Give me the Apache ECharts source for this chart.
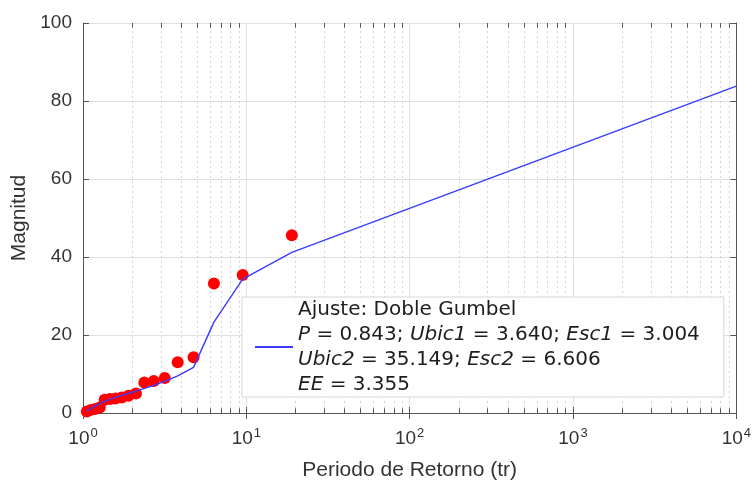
<!DOCTYPE html>
<html>
<head>
<meta charset="utf-8">
<script src="https://cdn.jsdelivr.net/npm/echarts@6/dist/echarts.min.js"></script>
<style>
  html, body { margin: 0; padding: 0; background: #ffffff; }
  #chart { width: 754px; height: 487px; }
</style>
</head>
<body>
<div id="chart"></div>
<script>
// Observed return periods (years) and magnitudes
const periods = [1.056, 1.118, 1.188, 1.267, 1.357, 1.462, 1.583, 1.727, 1.9, 2.111, 2.375, 2.714, 3.167, 3.8, 4.75, 6.333, 9.5, 19];
const magnitudes = [0.4, 0.8, 1.0, 1.4, 3.4, 3.6, 3.7, 4.0, 4.4, 5.0, 7.8, 8.2, 9.0, 13.0, 14.3, 33.2, 35.4, 45.6];

// Fitted double Gumbel curve
const fitPeriods = [1.056, 1.118, 1.188, 1.267, 1.357, 1.462, 1.583, 1.727, 1.9, 2.111, 2.375, 2.714, 3.167, 3.8, 4.75, 6.333, 9.5, 19, 10000];
const fitMagnitudes = [0.5, 1.2, 1.8, 2.4, 3.0, 3.5, 4.0, 4.5, 5.0, 5.6, 6.3, 7.1, 8.1, 9.5, 11.7, 23.3, 34.3, 41.2, 83.8];

// Axis ranges
const decades = [1, 10, 100, 1000];
const xMin = 1, xMax = 10000;
const yMin = 0, yMax = 100, yStep = 20;

// Legend text lines
const legendLines = [
  '{n|Ajuste: Doble Gumbel}',
  '{i|P}{n| = 0.843; }{i|Ubic1}{n| = 3.640; }{i|Esc1}{n| = 3.004}',
  '{i|Ubic2}{n| = 35.149; }{i|Esc2}{n| = 6.606}',
  '{i|EE}{n| = 3.355}'
];

// Minor positions 2..9 within each decade
const minorValues = [];
decades.forEach(d => { for (let k = 2; k <= 9; k++) minorValues.push(k * d); });

const axisColor = '#555555';
const tickFont = { fontFamily: 'Liberation Sans, Arial, sans-serif', fontSize: 19, color: '#333333' };

const chart = echarts.init(document.getElementById('chart'), null, { renderer: 'canvas' });

const minorGrid = minorValues.map(v => ({ xAxis: v }));
const minorTicks = [];
minorValues.forEach(v => {
  minorTicks.push([{ coord: [v, yMin] }, { coord: [v, yMin + 1.2] }]);
  minorTicks.push([{ coord: [v, yMax] }, { coord: [v, yMax - 1.2] }]);
});

const legendFont = 'DejaVu Sans, Verdana, sans-serif';
const legendRich = {
  n: { fontFamily: legendFont, fontSize: 20, color: '#1e1e1e', lineHeight: 25 },
  i: { fontFamily: legendFont, fontSize: 20, color: '#1e1e1e', fontStyle: 'italic', lineHeight: 25 }
};

chart.setOption({
  animation: false,
  backgroundColor: '#ffffff',
  grid: { left: 83, right: 16, top: 23, bottom: 74, containLabel: false },
  legend: {
    data: ['Doble Gumbel'],
    z: 20,
    left: 242,
    top: 297,
    orient: 'vertical',
    itemWidth: 38,
    itemHeight: 14,
    itemStyle: { opacity: 0 },
    backgroundColor: 'rgba(255,255,255,0.94)',
    borderColor: '#d6d6d6',
    borderWidth: 1,
    borderRadius: 0,
    padding: [0, 24, 0, 12],
    formatter: () => legendLines.join('\n'),
    textStyle: { rich: legendRich, lineHeight: 25 }
  },
  xAxis: [
    {
      type: 'log', logBase: 10, min: xMin, max: xMax, splitNumber: 4,
      name: 'Periodo de Retorno (tr)', nameLocation: 'middle', nameGap: 47,
      nameTextStyle: { fontFamily: 'Liberation Sans, Arial, sans-serif', fontSize: 21, color: '#333333' },
      axisLine: { show: true, lineStyle: { color: axisColor, width: 1 } },
      axisTick: { show: true, inside: true, length: 6, lineStyle: { color: axisColor } },
      splitLine: { show: true, lineStyle: { color: '#e0e0e0', width: 1 } },
      axisLabel: {
        margin: 15,
        formatter: v => '{b|10}{s|' + Math.round(Math.log10(v)) + '}',
        rich: {
          b: Object.assign({}, tickFont, { lineHeight: 22 }),
          s: Object.assign({}, tickFont, { fontSize: 13, lineHeight: 22, padding: [0, 0, 12, 1] })
        }
      }
    },
    {
      type: 'log', logBase: 10, min: xMin, max: xMax, splitNumber: 4, position: 'top',
      axisLine: { show: true, lineStyle: { color: axisColor, width: 1 } },
      axisTick: { show: true, inside: true, length: 6, lineStyle: { color: axisColor } },
      axisLabel: { show: false },
      splitLine: { show: false }
    }
  ],
  yAxis: [
    {
      type: 'value', min: yMin, max: yMax, interval: yStep,
      name: 'Magnitud', nameLocation: 'middle', nameGap: 50, nameRotate: 90,
      nameTextStyle: { fontFamily: 'Liberation Sans, Arial, sans-serif', fontSize: 21, color: '#333333' },
      axisLine: { show: true, lineStyle: { color: axisColor, width: 1 } },
      axisTick: { show: true, inside: true, length: 6, lineStyle: { color: axisColor } },
      splitLine: { show: true, lineStyle: { color: '#e0e0e0', width: 1 } },
      axisLabel: Object.assign({ margin: 11 }, tickFont)
    },
    {
      type: 'value', min: yMin, max: yMax, interval: yStep, position: 'right',
      axisLine: { show: true, lineStyle: { color: axisColor, width: 1 } },
      axisTick: { show: true, inside: true, length: 6, lineStyle: { color: axisColor } },
      axisLabel: { show: false },
      splitLine: { show: false }
    }
  ],
  series: [
    {
      // minor grid and minor ticks of the logarithmic axis
      name: 'minor', type: 'line', data: [], silent: true, z: 1,
      markLine: {
        silent: true, symbol: 'none', animation: false, z: 1,
        label: { show: false },
        lineStyle: { color: '#d4d4d4', width: 1, type: [2, 3] },
        data: minorGrid.concat(minorTicks.map(seg => [
          Object.assign({}, seg[0], { lineStyle: { color: axisColor, type: 'solid', width: 1 } }),
          seg[1]
        ]))
      }
    },
    {
      name: 'Datos', type: 'scatter', z: 3,
      symbol: 'circle', symbolSize: 12,
      itemStyle: { color: '#ff0000', opacity: 1 },
      data: periods.map((p, i) => [p, magnitudes[i]])
    },
    {
      name: 'Doble Gumbel', type: 'line', z: 4,
      symbol: 'none', showSymbol: false,
      lineStyle: { color: '#3b3bff', width: 1.4 },
      itemStyle: { color: '#3b3bff' },
      data: fitPeriods.map((p, i) => [p, fitMagnitudes[i]])
    }
  ]
});
</script>
</body>
</html>
